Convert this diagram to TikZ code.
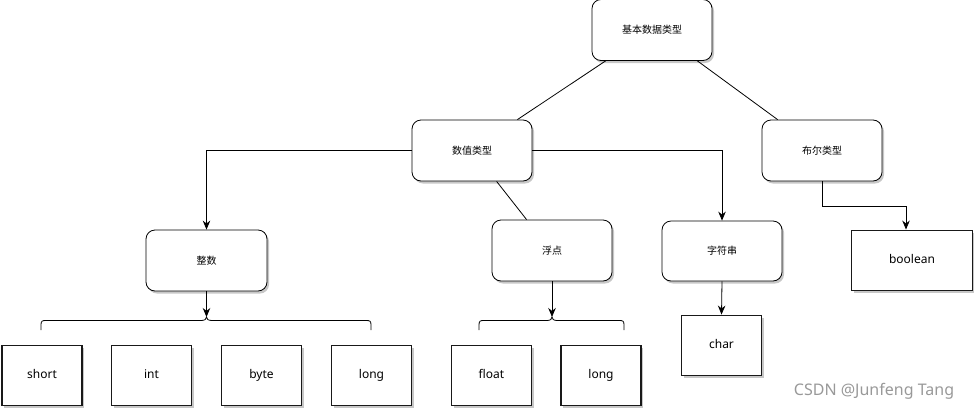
\documentclass[tikz,border=0pt]{standalone}
\usepackage{fontspec}
\setmainfont{Noto Sans}
\newfontfamily\cjk{Noto Sans CJK SC}
\usetikzlibrary{arrows.meta,shadows}
\begin{document}
\begin{tikzpicture}[x=1pt,y=-1pt,
  shd/.style={drop shadow={shadow xshift=2pt,shadow yshift=-2.5pt,fill=black,opacity=0.22}},
  rbox/.style={draw=black,line width=0.8pt,rounded corners=9pt,minimum width=120pt,minimum height=61pt,fill=white,shd,font=\cjk\fontsize{10}{12}\selectfont,text height=8.5pt,text depth=1.5pt},
  leaf/.style={draw=black!90,line width=1.9pt,minimum width=80pt,minimum height=60pt,fill=white,shd,font=\fontsize{12}{14}\selectfont,text height=9pt,text depth=3pt},
  conn/.style={line width=0.8pt},
  arr/.style={conn,-{Stealth[length=9pt,width=7.5pt]}},
  brc/.style={line width=0.8pt}]
\useasboundingbox (0,0) rectangle (974,410);
% nodes
\node[rbox] (top) at (652,30) {基本数据类型};
\node[rbox] (num) at (472,150.5) {数值类型};
\node[rbox] (bool) at (822,150.5) {布尔类型};
\node[rbox,minimum width=121pt] (zs) at (206.5,260.5) {整数};
\node[rbox] (flt) at (552,250.5) {浮点};
\node[rbox,minimum height=60pt] (str) at (722,251) {字符串};
\node[leaf,minimum width=121pt] (boolean) at (912,260.5) {boolean};
\node[leaf] (char) at (721.5,345.5) {char};
\node[leaf] (short) at (42,375.5) {short};
\node[leaf] (int) at (151.5,375.5) {int};
\node[leaf] (byte) at (261.5,375.5) {byte};
\node[leaf] (long) at (371.5,375.5) {long};
\node[leaf] (float) at (491.5,375.5) {float};
\node[leaf] (long2) at (601,375.5) {long};
% watermark
\node[text=black!40,font=\fontsize{16}{19}\selectfont] (wm) at (874,391) {CSDN @Junfeng Tang};
% coordinates
\coordinate (bk) at (822,206);
\coordinate (tip1) at (206.5,317);
\coordinate (tip2) at (552,317);
% connectors
\draw[conn] ([xshift=14pt]top.south west) -- ([xshift=-15pt]num.north east);
\draw[conn] ([xshift=-15pt]top.south east) -- ([xshift=16pt]bool.north west);
\draw[arr] (num.west) -| (zs.north);
\draw[arr] (num.east) -| (str.north);
\draw[conn] ([xshift=85pt]num.south west) -- ([xshift=35pt]flt.north west);
\draw[arr] (bool.south) -- (bk) -| ([xshift=-6pt]boolean.north);
\draw[arr] (str.south) -- (char.north);
\draw[arr] (zs.south) -- (tip1);
\draw[arr] (flt.south) -- (tip2);
% braces
\draw[brc] (41,330) -- (41,325) .. controls (41,321) and (42,320.5) .. (46,320.5)
  -- (201,320.5) .. controls (205,320.5) and (206.5,319) .. (206.5,317)
  .. controls (206.5,319) and (208,320.5) .. (212,320.5)
  -- (366,320.5) .. controls (370,320.5) and (371,321) .. (371,325) -- (371,330);
\draw[brc] (479,330) -- (479,325) .. controls (479,321) and (480,320.5) .. (484,320.5)
  -- (547,320.5) .. controls (550.5,320.5) and (552,319) .. (552,317)
  .. controls (552,319) and (553.5,320.5) .. (557,320.5)
  -- (619,320.5) .. controls (623,320.5) and (624,321) .. (624,325) -- (624,330);
\end{tikzpicture}
\end{document}
